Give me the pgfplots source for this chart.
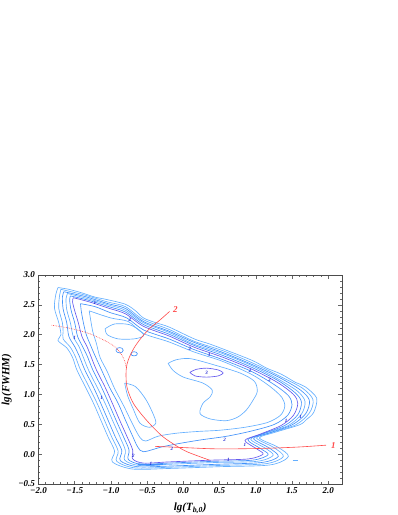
\documentclass[border=0pt]{standalone}
\usepackage{fontspec}
\setmainfont{Liberation Serif}
\usepackage{pgfplots}
\pgfplotsset{compat=1.18}
\definecolor{cA}{RGB}{100,175,255}
\definecolor{cB}{RGB}{65,145,250}
\definecolor{cP}{RGB}{100,90,238}
\definecolor{cD}{RGB}{35,40,210}
\definecolor{cR}{RGB}{255,75,75}
\begin{document}
\begin{tikzpicture}[x=1pt,y=1pt]
\useasboundingbox (0,0) rectangle (398,515);
\begin{axis}[
 at={(38.5pt,31pt)}, anchor=south west, scale only axis,
 width=303.5pt, height=209pt,
 xmin=-2, xmax=2.19, ymin=-0.5, ymax=3,
 xtick={-2,-1.5,-1,-0.5,0,0.5,1,1.5,2},
 ytick={-0.5,0,0.5,1,1.5,2,2.5,3},
 xticklabels={−2.0,−1.5,−1.0,−0.5,0.0,0.5,1.0,1.5,2.0},
 yticklabels={−0.5,0.0,0.5,1.0,1.5,2.0,2.5,3.0},
 minor tick num=4,
 tick align=inside,
 major tick length=3.5pt, minor tick length=2pt,
 tick style={black!60, line width=0.5pt},
 axis line style={black!70, line width=0.8pt},
 ticklabel style={font=\fontsize{9}{9}\selectfont\bfseries\itshape},
 xlabel={lg(T\textsubscript{b,0})},
 ylabel={lg(FWHM)},
 xlabel style={at={(axis description cs:0.5,-0.115)}, anchor=center, font=\fontsize{11}{11}\selectfont\bfseries\itshape},
 ylabel style={at={(axis description cs:-0.105,0.5)}, anchor=center, font=\fontsize{11}{11}\selectfont\bfseries\itshape},
 every axis plot/.append style={line width=0.65pt},
]
% outer contour O
\addplot[cA, smooth, tension=0.5] coordinates {(-1.73,2.79) (-1.58,2.76) (-1.40,2.70) (-1.22,2.63) (-1.06,2.59) (-0.80,2.51) (-0.66,2.40) (-0.55,2.28) (-0.38,2.20) (-0.20,2.13) (0.15,1.93) (0.35,1.85) (0.55,1.76) (0.95,1.57) (1.15,1.44) (1.35,1.34) (1.55,1.20) (1.68,1.13) (1.84,0.94) (1.80,0.70) (1.70,0.58) (1.60,0.49) (1.25,0.36) (1.05,0.27) (1.30,0.12) (1.45,-0.04) (1.20,-0.18) (0.50,-0.21) (-0.20,-0.24) (-0.70,-0.25) (-0.98,-0.13) (-0.95,0.05) (-1.04,0.29) (-1.14,0.57) (-1.24,0.85) (-1.35,1.12) (-1.47,1.41) (-1.53,1.62) (-1.61,1.78) (-1.73,1.90) (-1.69,2.00) (-1.72,2.20) (-1.78,2.45) (-1.76,2.68) (-1.73,2.79)};
\addplot[cA, smooth, tension=0.5] coordinates {(-1.69,2.76) (-1.38,2.67) (-1.05,2.55) (-0.80,2.47) (-0.55,2.25) (-0.20,2.09) (0.15,1.89) (0.55,1.73) (0.95,1.53) (1.34,1.30) (1.65,1.10) (1.79,0.91) (1.74,0.69) (1.55,0.49) (1.21,0.36) (1.01,0.27) (1.25,0.11) (1.38,-0.04) (1.14,-0.16) (0.48,-0.19) (-0.20,-0.22) (-0.67,-0.23) (-0.92,-0.12) (-0.90,0.05) (-0.99,0.29) (-1.09,0.57) (-1.19,0.85) (-1.30,1.12) (-1.42,1.41) (-1.49,1.63) (-1.56,1.79) (-1.66,1.93) (-1.66,2.05) (-1.67,2.20) (-1.72,2.44) (-1.71,2.65) (-1.69,2.76)};
\addplot[cB, smooth, tension=0.5] coordinates {(-1.65,2.72) (-1.36,2.64) (-1.04,2.52) (-0.80,2.44) (-0.55,2.22) (-0.20,2.06) (0.15,1.87) (0.55,1.70) (0.95,1.50) (1.33,1.28) (1.62,1.07) (1.74,0.90) (1.69,0.68) (1.50,0.49) (1.17,0.35) (0.97,0.26) (1.19,0.10) (1.31,-0.04) (1.08,-0.14) (0.46,-0.17) (-0.20,-0.20) (-0.64,-0.21) (-0.87,-0.11) (-0.85,0.06) (-0.94,0.29) (-1.04,0.57) (-1.14,0.85) (-1.24,1.12) (-1.36,1.41) (-1.44,1.65) (-1.50,1.80) (-1.58,1.97) (-1.61,2.20) (-1.66,2.43) (-1.67,2.63) (-1.65,2.72)};
\addplot[cA, smooth, tension=0.5] coordinates {(-1.60,2.69) (-1.34,2.61) (-1.04,2.50) (-0.80,2.41) (-0.55,2.20) (-0.20,2.04) (0.15,1.84) (0.55,1.68) (0.95,1.48) (1.32,1.25) (1.58,1.05) (1.68,0.88) (1.63,0.67) (1.45,0.48) (1.13,0.35) (0.93,0.25) (1.13,0.10) (1.24,-0.02) (1.02,-0.12) (0.44,-0.14) (-0.20,-0.17) (-0.61,-0.19) (-0.81,-0.10) (-0.80,0.06) (-0.88,0.30) (-0.98,0.57) (-1.08,0.85) (-1.19,1.12) (-1.31,1.41) (-1.39,1.65) (-1.44,1.80) (-1.52,1.97) (-1.56,2.20) (-1.61,2.42) (-1.62,2.60) (-1.60,2.69)};
\addplot[cB, smooth, tension=0.5] coordinates {(-1.56,2.65) (-1.32,2.58) (-1.03,2.47) (-0.80,2.38) (-0.55,2.17) (-0.20,2.01) (0.15,1.82) (0.55,1.65) (0.95,1.45) (1.31,1.23) (1.55,1.02) (1.63,0.87) (1.58,0.66) (1.40,0.48) (1.09,0.34) (0.89,0.24) (1.07,0.09) (1.17,-0.01) (0.96,-0.10) (0.42,-0.12) (-0.20,-0.15) (-0.58,-0.17) (-0.76,-0.09) (-0.75,0.07) (-0.83,0.30) (-0.93,0.57) (-1.03,0.85) (-1.13,1.12) (-1.25,1.41) (-1.33,1.65) (-1.39,1.80) (-1.46,1.97) (-1.50,2.20) (-1.55,2.41) (-1.57,2.58) (-1.56,2.65)};
% ridge P
\addplot[cP, smooth, tension=0.5] coordinates {(-1.52,2.62) (-1.30,2.55) (-1.02,2.44) (-0.80,2.35) (-0.55,2.14) (-0.20,1.98) (0.15,1.79) (0.55,1.62) (0.95,1.42) (1.30,1.20) (1.52,1.00) (1.58,0.85) (1.52,0.65) (1.35,0.48) (1.05,0.33) (0.85,0.23) (1.01,0.09) (1.10,0.00) (0.90,-0.08) (0.40,-0.10) (-0.20,-0.13) (-0.55,-0.15) (-0.70,-0.08) (-0.70,0.07) (-0.78,0.30) (-0.88,0.57) (-0.98,0.85) (-1.08,1.12) (-1.20,1.41) (-1.28,1.65) (-1.33,1.80) (-1.40,1.97) (-1.45,2.20) (-1.50,2.40) (-1.53,2.55) (-1.52,2.62)};
\addplot[cB, smooth, tension=0.5] coordinates {(-1.42,2.52) (-1.22,2.47) (-1.01,2.37) (-0.78,2.28) (-0.55,2.08) (-0.20,1.93) (0.15,1.75) (0.55,1.58) (0.95,1.38) (1.26,1.16) (1.45,0.98) (1.50,0.83) (1.44,0.65) (1.26,0.50) (0.95,0.39) (0.60,0.30) (0.25,0.24) (-0.05,0.18) (-0.30,0.12) (-0.55,0.04) (-0.63,0.12) (-0.70,0.30) (-0.80,0.57) (-0.90,0.85) (-1.02,1.12) (-1.13,1.41) (-1.22,1.65) (-1.28,1.82) (-1.34,2.00) (-1.38,2.20) (-1.41,2.40) (-1.42,2.52)};
\addplot[cA, smooth, tension=0.5] coordinates {(-1.30,2.40) (-1.00,2.28) (-0.76,2.22) (-0.55,2.02) (-0.20,1.88) (0.15,1.71) (0.55,1.55) (0.95,1.33) (1.20,1.13) (1.36,0.95) (1.40,0.80) (1.34,0.65) (1.16,0.53) (0.85,0.45) (0.50,0.40) (0.20,0.38) (-0.10,0.35) (-0.35,0.30) (-0.52,0.22) (-0.60,0.28) (-0.70,0.50) (-0.82,0.80) (-0.95,1.10) (-1.05,1.38) (-1.15,1.62) (-1.20,1.85) (-1.25,2.05) (-1.28,2.25) (-1.30,2.40)};
% interior contours
\addplot[cA, smooth, tension=0.5] coordinates {(-0.21,1.52) (-0.10,1.58) (0.09,1.60) (0.41,1.50) (0.78,1.36) (0.98,1.22) (1.02,1.05) (0.96,0.90) (0.87,0.74) (0.75,0.62) (0.59,0.56) (0.37,0.59) (0.23,0.68) (0.27,0.85) (0.37,0.96) (0.40,1.07) (0.27,1.19) (0.0,1.29) (-0.14,1.40) (-0.21,1.52)};
\addplot[cP, smooth, tension=0.5] coordinates {(0.09,1.37) (0.18,1.42) (0.32,1.44) (0.48,1.41) (0.55,1.36) (0.48,1.31) (0.32,1.29) (0.16,1.31) (0.09,1.37)};
\addplot[cA, smooth, tension=0.5] coordinates {(-1.08,2.10) (-0.95,2.18) (-0.75,2.17) (-0.60,2.07) (-0.55,1.98) (-0.68,1.93) (-0.90,1.93) (-1.05,2.00) (-1.08,2.10)};
\addplot[cA, smooth, tension=0.5] coordinates {(-0.81,1.19) (-0.66,1.13) (-0.52,0.92) (-0.42,0.68) (-0.38,0.52) (-0.47,0.45) (-0.60,0.52) (-0.69,0.75) (-0.77,0.98) (-0.81,1.19)};
\addplot[cB, smooth] coordinates {(-0.93,1.74) (-0.915,1.772) (-0.88,1.785) (-0.845,1.772) (-0.83,1.74) (-0.845,1.708) (-0.88,1.695) (-0.915,1.708) (-0.93,1.74)};
\addplot[cB, smooth] coordinates {(-0.725,1.68) (-0.712,1.705) (-0.68,1.715) (-0.648,1.705) (-0.635,1.68) (-0.648,1.655) (-0.68,1.645) (-0.712,1.655) (-0.725,1.68)};
\addplot[cB, line width=1.6pt] coordinates {(-0.63,-0.17) (-0.45,-0.18) (-0.28,-0.17)};
\addplot[cA] coordinates {(1.51,-0.11) (1.58,-0.11)};
% red curves
\addplot[cR, smooth, line width=0.6pt] coordinates {(-0.19,2.39) (-0.32,2.25) (-0.46,2.11) (-0.58,1.95) (-0.68,1.78) (-0.76,1.58) (-0.79,1.41) (-0.78,1.13) (-0.69,0.85) (-0.51,0.57) (-0.28,0.29) (0.0,0.07) (0.20,-0.03) (0.36,-0.10)};
\addplot[cR, smooth, densely dotted, line width=0.6pt] coordinates {(-1.82,2.16) (-1.62,2.12) (-1.47,2.08) (-1.30,2.02) (-1.15,1.94) (-1.02,1.86) (-0.92,1.77) (-0.85,1.66) (-0.81,1.56) (-0.79,1.45)};
\addplot[cR, smooth, line width=0.6pt] coordinates {(-0.39,0.13) (0.0,0.11) (0.4,0.09) (0.8,0.09) (1.2,0.10) (1.6,0.12) (1.97,0.15)};
\node[text=cR, font=\fontsize{9}{9}\selectfont\bfseries\itshape] at (axis cs:-0.11,2.42) {2};
\node[text=cR, font=\fontsize{9}{9}\selectfont\bfseries\itshape] at (axis cs:2.07,0.14) {1};
% contour level labels
\begin{scope}[every node/.style={text=cD, font=\fontsize{5}{5}\selectfont\bfseries\itshape, inner sep=0pt}]
\node at (axis cs:-1.22,2.54) {1};
\node at (axis cs:-0.74,2.25) {2};
\node at (axis cs:0.09,1.76) {2};
\node at (axis cs:0.36,1.66) {1};
\node at (axis cs:0.32,1.36) {3};
\node at (axis cs:0.92,1.40) {2};
\node at (axis cs:1.19,1.24) {2};
\node at (axis cs:1.42,0.56) {1};
\node at (axis cs:1.62,0.62) {1};
\node at (axis cs:-1.50,1.94) {1};
\node at (axis cs:-1.13,0.94) {1};
\node at (axis cs:-0.16,0.09) {2};
\node at (axis cs:0.57,0.24) {2};
\node at (axis cs:0.85,0.15) {1};
\node at (axis cs:0.62,-0.10) {1};
\node at (axis cs:-0.69,-0.03) {2};
\node at (axis cs:-0.45,-0.16) {1};
\end{scope}
\end{axis}
\end{tikzpicture}
\end{document}
